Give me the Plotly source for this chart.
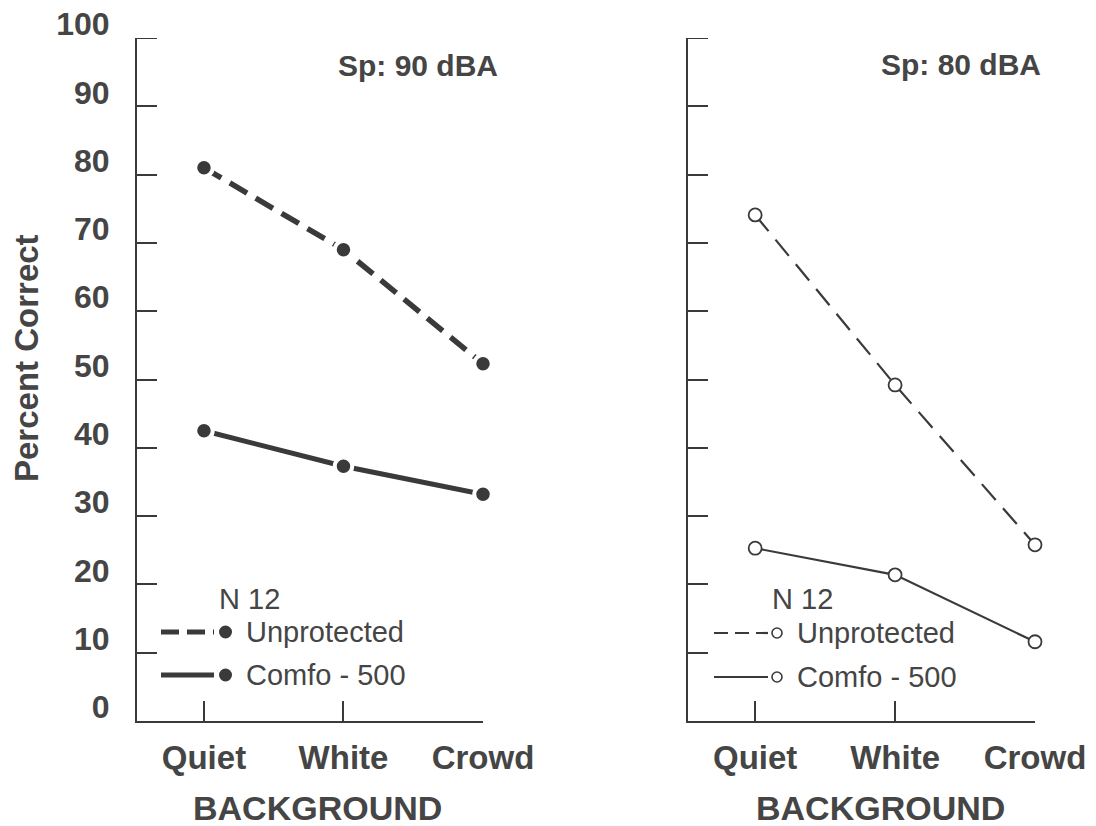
import plotly.graph_objects as go

# ---------------- data ----------------
backgrounds = ["Quiet", "White", "Crowd"]
y_ticks = [0, 10, 20, 30, 40, 50, 60, 70, 80, 90, 100]

sp90_unprotected = [81, 69, 52.3]
sp90_comfo500 = [42.5, 37.3, 33.2]

sp80_unprotected = [74.1, 49.2, 25.8]
sp80_comfo500 = [25.3, 21.4, 11.6]

panel_titles = ["Sp: 90 dBA", "Sp: 80 dBA"]
series_names = ["Unprotected", "Comfo - 500"]
legend_title = "N 12"

# ---------------- style ----------------
W, H = 1096, 826
INK = "#3a3a3a"
TXT = "#454545"
FONT = "Liberation Sans"


def PX(x):
    return x / W


def PY(y):
    return 1 - y / H


dom_left = [PX(137), PX(483)]
dom_right = [PX(688), PX(1035)]
dom_y = [PY(721), PY(38)]

fig = go.Figure()

# left panel: filled markers, thick lines
fig.add_trace(go.Scatter(
    x=backgrounds, y=sp90_unprotected, mode="lines+markers", name=series_names[0],
    line=dict(color=INK, width=5.5, dash="20px,10px"),
    marker=dict(size=17.5, color=INK, line=dict(color="white", width=4)),
    cliponaxis=False, showlegend=False, xaxis="x", yaxis="y"))
fig.add_trace(go.Scatter(
    x=backgrounds, y=sp90_comfo500, mode="lines+markers", name=series_names[1],
    line=dict(color=INK, width=5),
    marker=dict(size=17.5, color=INK, line=dict(color="white", width=4)),
    cliponaxis=False, showlegend=False, xaxis="x", yaxis="y"))

# right panel: open markers, thin lines
fig.add_trace(go.Scatter(
    x=backgrounds, y=sp80_unprotected, mode="lines+markers", name=series_names[0],
    line=dict(color=INK, width=2.2, dash="21px,11px"),
    marker=dict(size=13, color="white", line=dict(color=INK, width=1.8)),
    cliponaxis=False, showlegend=False, xaxis="x2", yaxis="y2"))
fig.add_trace(go.Scatter(
    x=backgrounds, y=sp80_comfo500, mode="lines+markers", name=series_names[1],
    line=dict(color=INK, width=2.2),
    marker=dict(size=13, color="white", line=dict(color=INK, width=1.8)),
    cliponaxis=False, showlegend=False, xaxis="x2", yaxis="y2"))

xaxis_common = dict(
    type="category", range=[-0.48, 2], showgrid=False, zeroline=False,
    showline=True, linecolor=INK, linewidth=2,
    ticks="inside", ticklen=20, tickwidth=2, tickcolor=INK,
    tickfont=dict(family=FONT, size=33, color=TXT, weight="bold"),
    ticklabelstandoff=6, automargin=False, fixedrange=True)
yaxis_common = dict(
    range=[0, 100], showgrid=False, zeroline=False,
    showline=True, linecolor=INK, linewidth=2,
    ticks="inside", ticklen=20, tickwidth=2, tickcolor=INK,
    tickvals=y_ticks, automargin=False, fixedrange=True)

fig.update_layout(
    width=W, height=H, margin=dict(l=0, r=0, t=0, b=0),
    paper_bgcolor="white", plot_bgcolor="white",
    showlegend=False,
    xaxis=dict(domain=dom_left, anchor="y", **xaxis_common),
    yaxis=dict(domain=dom_y, anchor="x", showticklabels=True,
               tickfont=dict(family=FONT, size=32, color=TXT, weight="bold"),
               ticklabelstandoff=19, ticklabelshift=-14, **yaxis_common),
    xaxis2=dict(domain=dom_right, anchor="y2", **xaxis_common),
    yaxis2=dict(domain=dom_y, anchor="x2", showticklabels=False, **yaxis_common),
)


def note(text, x, y, font, xanchor="center", **kw):
    return dict(text=text, x=PX(x), y=PY(y), xref="paper", yref="paper",
                xanchor=xanchor, yanchor="middle", showarrow=False, font=font, **kw)


annotations = []
title_font = dict(family=FONT, size=30, color=TXT, weight="bold")
annotations.append(note(panel_titles[0], 418, 65, title_font))
annotations.append(note(panel_titles[1], 961, 64, title_font))
for cx in (317, 880):
    annotations.append(note("BACKGROUND", cx, 808, dict(family=FONT, size=34, color=TXT, weight="bold")))
annotations.append(note("Percent Correct", 26, 358, dict(family=FONT, size=33, color=TXT, weight="bold"),
                        textangle=-90))

shapes = []
# top (100) ticks drawn explicitly so they show at the end of each y axis
for xr, yr, dom in (("x domain", "y", dom_left), ("x2 domain", "y2", dom_right)):
    frac = 20 / ((dom[1] - dom[0]) * W)
    shapes.append(dict(type="line", xref=xr, yref=yr, x0=0, x1=frac, y0=y_ticks[-1], y1=y_ticks[-1],
                       line=dict(color=INK, width=2)))

legend_font = dict(family=FONT, size=29, color=TXT)
# left legend (filled markers)
annotations.append(note(legend_title, 217, 599, legend_font, xanchor="left"))
for yy, nm, dash in ((632, series_names[0], "18px,8px"), (675, series_names[1], "solid")):
    shapes.append(dict(type="line", xref="paper", yref="paper", x0=PX(161), x1=PX(214),
                       y0=PY(yy), y1=PY(yy), line=dict(color=INK, width=5, dash=dash)))
    shapes.append(dict(type="circle", xref="paper", yref="paper",
                       x0=PX(219), x1=PX(232), y0=PY(yy + 6.5), y1=PY(yy - 6.5),
                       fillcolor=INK, line=dict(color=INK, width=0)))
    annotations.append(note(nm, 244, yy, legend_font, xanchor="left"))
# right legend (open markers)
annotations.append(note(legend_title, 770, 599, legend_font, xanchor="left"))
for yy, nm, dash in ((633, series_names[0], "14px,7px"), (677, series_names[1], "solid")):
    shapes.append(dict(type="line", xref="paper", yref="paper", x0=PX(714), x1=PX(768),
                       y0=PY(yy), y1=PY(yy), line=dict(color=INK, width=2.2, dash=dash)))
    shapes.append(dict(type="circle", xref="paper", yref="paper",
                       x0=PX(772), x1=PX(782), y0=PY(yy + 5), y1=PY(yy - 5),
                       fillcolor="white", line=dict(color=INK, width=1.6)))
    annotations.append(note(nm, 795, yy, legend_font, xanchor="left"))

fig.update_layout(annotations=annotations, shapes=shapes)

fig.write_html("out.html", config={"displayModeBar": False},
               post_script="document.body.style.margin='0';")
